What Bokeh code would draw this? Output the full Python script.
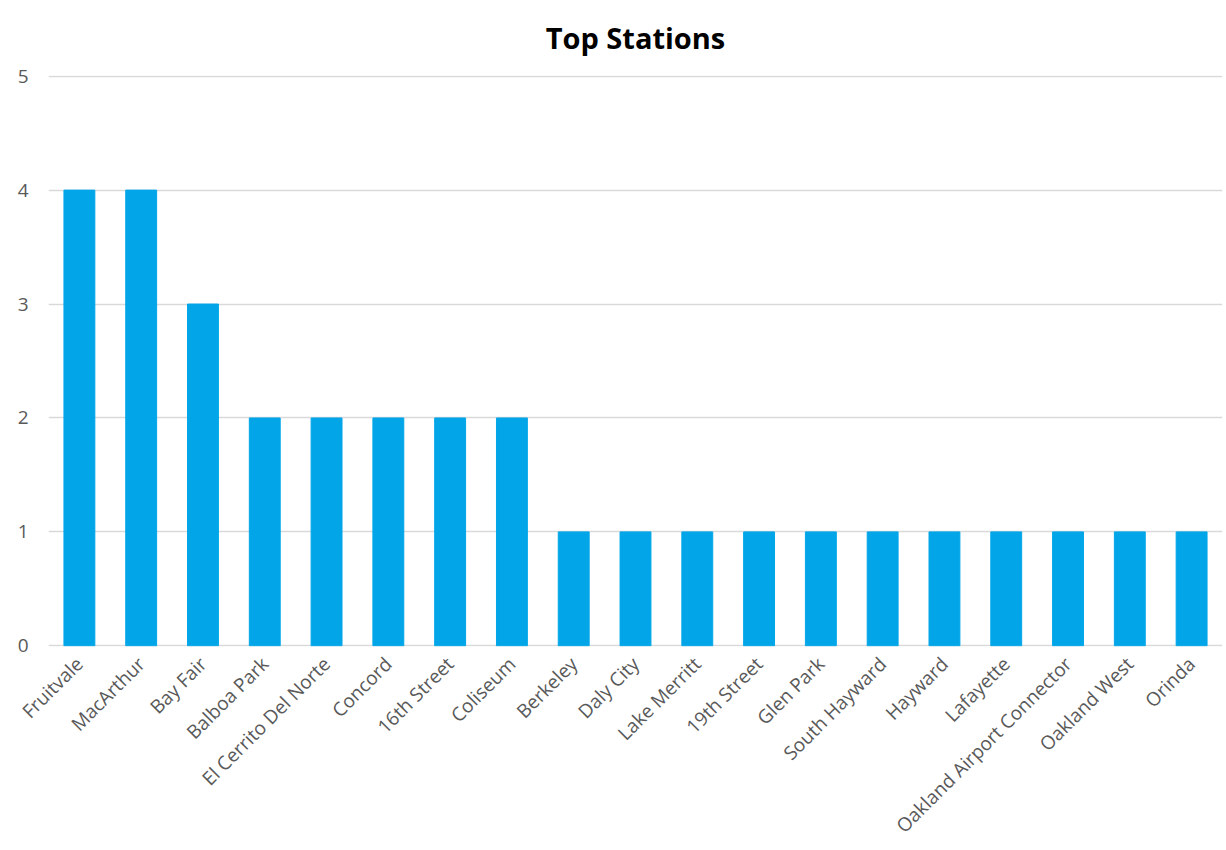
import math
from bokeh.plotting import figure
from bokeh.models import FactorRange, Range1d, SingleIntervalTicker, Title
from bokeh.embed import file_html
from bokeh.resources import INLINE

stations = ["Fruitvale", "MacArthur", "Bay Fair", "Balboa Park", "El Cerrito Del Norte",
            "Concord", "16th Street", "Coliseum", "Berkeley", "Daly City", "Lake Merritt",
            "19th Street", "Glen Park", "South Hayward", "Hayward", "Lafayette",
            "Oakland Airport Connector", "Oakland West", "Orinda"]
counts = [4, 4, 3, 2, 2, 2, 2, 2, 1, 1, 1, 1, 1, 1, 1, 1, 1, 1, 1]

FONT = "Open Sans"
GREY = "#595959"

p = figure(width=1226, height=850, x_range=FactorRange(factors=stations, range_padding=0),
           y_range=Range1d(-0.006, 5.006), output_backend="svg", toolbar_location=None,
           min_border_left=48, min_border_right=4, min_border_top=0, min_border_bottom=203)

p.vbar(x=stations, top=counts, bottom=0, width=0.5, fill_color="#02A6E8", line_color="#02A6E8")

t = Title(text="Top Stations", align="center", vertical_align="top", text_font=FONT,
          text_font_size="29px", text_font_style="bold", text_color="#000000", standoff=34)
p.add_layout(t, "above")

p.outline_line_color = None
p.xgrid.grid_line_color = None
p.ygrid.grid_line_color = "#d9d9d9"
p.ygrid.grid_line_width = 1.5
p.yaxis.ticker = SingleIntervalTicker(interval=1)

for ax in (p.xaxis[0], p.yaxis[0]):
    ax.axis_line_color = None
    ax.major_tick_line_color = None
    ax.minor_tick_line_color = None
    ax.major_label_text_font = FONT
    ax.major_label_text_font_size = "19px"
    ax.major_label_text_color = GREY

p.yaxis.major_label_standoff = 14
p.xaxis.major_label_standoff = 8
p.xaxis.major_label_orientation = math.pi / 4

open("out.html", "w").write(file_html(p, INLINE))
